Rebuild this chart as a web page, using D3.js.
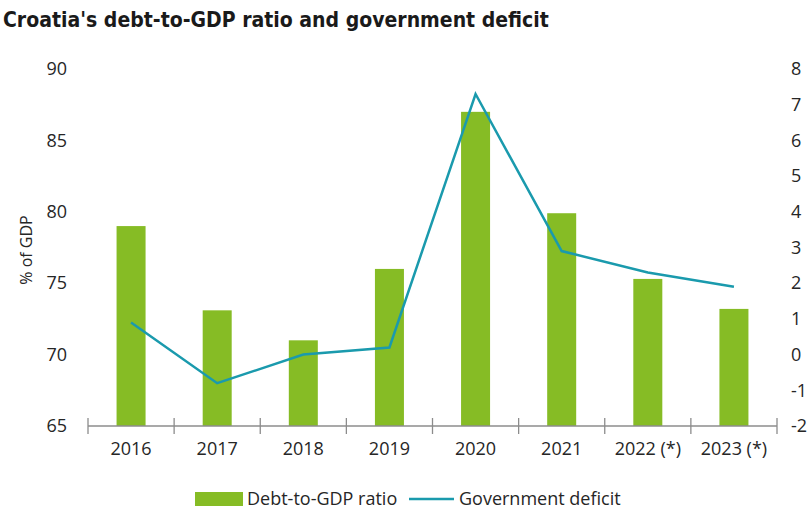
<!DOCTYPE html>
<html>
<head>
<meta charset="utf-8">
<script src="https://cdn.jsdelivr.net/npm/d3@7"></script>
<style>
  html, body { margin: 0; padding: 0; background: #fff; }
  svg { display: block; }
  text { font-family: "Open Sans", "Noto Sans", sans-serif; fill: #262626; }
</style>
</head>
<body>
<svg id="chart" width="811" height="511"></svg>
<script>
// Chart data
const years = ["2016", "2017", "2018", "2019", "2020", "2021", "2022 (*)", "2023 (*)"];
const debtRatio = [79.0, 73.1, 71.0, 76.0, 87.0, 79.9, 75.3, 73.2];
const deficit = [0.9, -0.8, 0.0, 0.2, 7.3, 2.9, 2.3, 1.9];
const leftTicks = [65, 70, 75, 80, 85, 90];
const rightTicks = [-2, -1, 0, 1, 2, 3, 4, 5, 6, 7, 8];

const titleText = "Croatia's debt-to-GDP ratio and government deficit";
const yAxisTitle = "% of GDP";
const legendLabels = ["Debt-to-GDP ratio", "Government deficit"];

const barColor = "#86bc25";
const lineColor = "#1a9aad";
const axisColor = "#8c8c8c";

const svg = d3.select("#chart");

const plot = { left: 88, right: 777, top: 69, bottom: 426 };

const x = d3.scaleBand().domain(years).range([plot.left, plot.right]).paddingInner(0).paddingOuter(0);
const yLeft = d3.scaleLinear().domain([65, 90]).range([plot.bottom, plot.top]);
const yRight = d3.scaleLinear().domain([-2, 8]).range([plot.bottom, plot.top]);

// Title, shrunk to its target width if the font runs wide
const title = svg.append("text")
  .attr("x", 3).attr("y", 27)
  .style("font-family", "'Liberation Sans Narrow', 'DejaVu Sans Condensed', 'Open Sans', sans-serif")
  .style("font-weight", "bold")
  .style("font-size", "23px")
  .style("fill", "#1a1a1a")
  .text(titleText);
const tw = title.node().getComputedTextLength();
if (tw > 546) title.style("font-size", (23 * 546 / tw).toFixed(2) + "px");

// Bars
const barW = 29;
svg.append("g").selectAll("rect")
  .data(years.map((y, i) => ({ y, v: debtRatio[i] })))
  .join("rect")
  .attr("x", d => x(d.y) + x.bandwidth() / 2 - barW / 2)
  .attr("y", d => yLeft(d.v))
  .attr("width", barW)
  .attr("height", d => yLeft(65) - yLeft(d.v))
  .attr("fill", barColor);

// Deficit line
const line = d3.line()
  .x((d, i) => x(years[i]) + x.bandwidth() / 2)
  .y(d => yRight(d));
svg.append("path")
  .datum(deficit)
  .attr("d", line)
  .attr("fill", "none")
  .attr("stroke", lineColor)
  .attr("stroke-width", 2.5)
  .attr("stroke-linejoin", "miter");

// Category axis with ticks between bands
const xAxisG = svg.append("g").attr("transform", `translate(0,${plot.bottom})`);
xAxisG.append("line")
  .attr("x1", plot.left).attr("x2", plot.right)
  .attr("y1", 0).attr("y2", 0)
  .attr("stroke", axisColor).attr("stroke-width", 1.3);
const boundaries = years.map(y => x(y)).concat([plot.right]);
xAxisG.selectAll("line.tick")
  .data(boundaries)
  .join("line")
  .attr("class", "tick")
  .attr("x1", d => d).attr("x2", d => d)
  .attr("y1", -8).attr("y2", 8)
  .attr("stroke", axisColor).attr("stroke-width", 1.3);
xAxisG.selectAll("text")
  .data(years)
  .join("text")
  .attr("x", d => x(d) + x.bandwidth() / 2)
  .attr("y", 29)
  .attr("text-anchor", "middle")
  .style("font-size", "18px")
  .text(d => d);

// Plain hyphen-minus labels
const plainFormat = d => String(d);

// Left value axis (labels only)
const leftAxis = d3.axisLeft(yLeft).tickValues(leftTicks).tickFormat(plainFormat).tickSize(0).tickPadding(0);
const gl = svg.append("g").attr("transform", "translate(67,0)").call(leftAxis);
gl.select(".domain").remove();
gl.selectAll("text").style("font-size", "18px").style("font-family", null).attr("fill", "#262626");

// Right value axis (labels only)
const rightAxis = d3.axisRight(yRight).tickValues(rightTicks).tickFormat(plainFormat).tickSize(0).tickPadding(0);
const gr = svg.append("g").attr("transform", "translate(791,0)").call(rightAxis);
gr.select(".domain").remove();
gr.selectAll("text").style("font-size", "18px").style("font-family", null).attr("fill", "#262626");

// Axis title
svg.append("text")
  .attr("transform", "translate(32,250) rotate(-90)")
  .attr("text-anchor", "middle")
  .style("font-size", "16px")
  .text(yAxisTitle);

// Legend
const lg = svg.append("g");
lg.append("rect").attr("x", 195).attr("y", 492).attr("width", 48).attr("height", 14).attr("fill", barColor);
lg.append("text").attr("x", 247).attr("y", 505).style("font-size", "18px").text(legendLabels[0]);
lg.append("line").attr("x1", 409).attr("x2", 454).attr("y1", 499).attr("y2", 499)
  .attr("stroke", lineColor).attr("stroke-width", 2.5);
lg.append("text").attr("x", 459).attr("y", 505).style("font-size", "18px").text(legendLabels[1]);
</script>
</body>
</html>
